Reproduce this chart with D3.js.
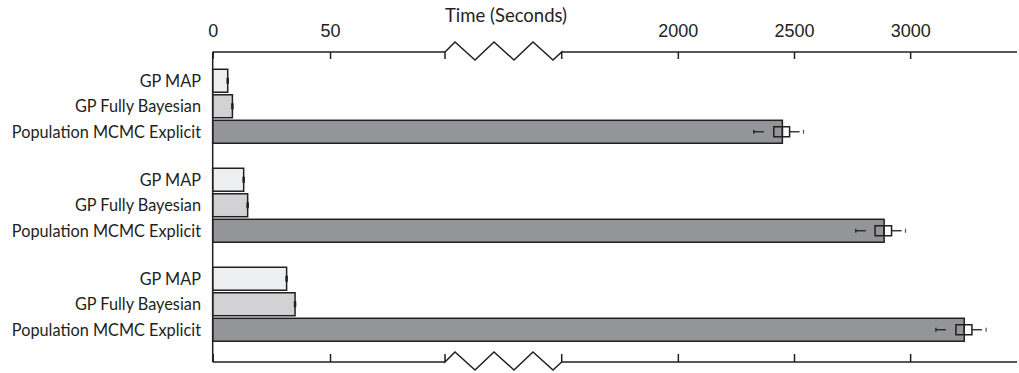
<!DOCTYPE html>
<html>
  <head>
    <meta charset="utf-8">
    <script src="https://d3js.org/d3.v7.min.js"></script>
    <title>Time (Seconds)</title>
    <style type="text/css">
      body { margin: 0; background: #fff; }
      svg { display: block; }
      .tick text { font-family: "Liberation Sans", Arial, sans-serif; font-size: 18px; fill: #231f20; }
      .axis line { stroke: #231f20; stroke-width: 1.5; }
      .label { font-family: Lato, "Open Sans", sans-serif; font-size: 16.3px; fill: #231f20; }
    </style>
  </head>
  <body>
    <div id="chart"></div>
    <script type="text/javascript">
      // three experiment groups (not labelled in the figure)
      var groups = ["set1", "set2", "set3"];
      var series = ["GP MAP", "GP Fully Bayesian", "Population MCMC Explicit"];
      var colors = ["#eeeff0", "#d1d2d4", "#939598"];

      var gpMap = [6.4, 13.2, 31.5];
      var gpFully = [8.4, 14.9, 35.1];
      var popMcmc = [2450, 2888, 3233];

      // box plot stats for Population MCMC runs: min, q1, median, q3, max
      var popLow = [2327, 2766, 3111];
      var popQ1 = [2413, 2849, 3197];
      var popMed = [2450, 2888, 3233];
      var popQ3 = [2481, 2920, 3266];
      var popHigh = [2541, 2980, 3327];

      var leftTicks = [0, 50];
      var rightTicks = [2000, 2500, 3000];

      var width = 1019, height = 373,
          axisTop = 52, axisBottom = 362,
          breakLo = 99, breakHi = 1500;

      var svg = d3.select("#chart").append("svg")
        .attr("width", width)
        .attr("height", height);

      var xl = d3.scaleLinear().domain([0, breakLo]).range([212.7, 445]);
      var xr = d3.scaleLinear().domain([breakHi, 3460]).range([561.7, 1017]);
      function x(v) { return v <= breakLo ? xl(v) : xr(v); }

      var y0 = d3.scaleBand().domain(groups).range([68, 342.5]).paddingInner(0.227).paddingOuter(0);
      var y1 = d3.scaleBand().domain(series).range([0, y0.bandwidth()]).paddingInner(0.1).paddingOuter(0.05);

      var values = [gpMap, gpFully, popMcmc];
      var rows = [];
      groups.forEach(function(g, gi) {
        series.forEach(function(s, si) {
          rows.push({group: g, gi: gi, series: s, si: si, value: values[si][gi]});
        });
      });

      // bars
      svg.append("g").selectAll("rect")
        .data(rows)
        .enter().append("rect")
          .attr("x", x(0))
          .attr("y", function(d) { return y0(d.group) + y1(d.series); })
          .attr("width", function(d) { return x(d.value) - x(0); })
          .attr("height", y1.bandwidth())
          .attr("fill", function(d) { return colors[d.si]; })
          .attr("stroke", "#231f20")
          .attr("stroke-width", 1.5);

      // small end marks on the GP bars
      svg.append("g").selectAll("line")
        .data(rows.filter(function(d) { return d.si < 2; }))
        .enter().append("line")
          .attr("x1", function(d) { return x(d.value); })
          .attr("x2", function(d) { return x(d.value); })
          .attr("y1", function(d) { return y0(d.group) + y1(d.series) + y1.bandwidth() / 2 - 3; })
          .attr("y2", function(d) { return y0(d.group) + y1(d.series) + y1.bandwidth() / 2 + 3; })
          .attr("stroke", "#231f20")
          .attr("stroke-width", 2.5);

      // box plots on the Population MCMC bars
      var box = svg.append("g").selectAll("g")
        .data(groups)
        .enter().append("g")
          .attr("transform", function(g) {
            return "translate(0," + (y0(g) + y1(series[2]) + y1.bandwidth() / 2) + ")";
          });
      var bh = 10;
      box.append("rect")
        .attr("x", function(g, i) { return x(popQ1[i]); })
        .attr("y", -bh / 2)
        .attr("width", function(g, i) { return x(popQ3[i]) - x(popQ1[i]); })
        .attr("height", bh)
        .attr("fill", "none")
        .attr("stroke", "#231f20")
        .attr("stroke-width", 1.5);
      box.append("line")
        .attr("x1", function(g, i) { return x(popMed[i]); })
        .attr("x2", function(g, i) { return x(popMed[i]); })
        .attr("y1", -bh / 2).attr("y2", bh / 2)
        .attr("stroke", "#231f20").attr("stroke-width", 1.5);
      box.append("line")
        .attr("x1", function(g, i) { return x(popLow[i]); })
        .attr("x2", function(g, i) { return x(popQ1[i]); })
        .attr("stroke", "#231f20").attr("stroke-width", 1.3)
        .attr("stroke-dasharray", "10,10");
      box.append("line")
        .attr("x1", function(g, i) { return x(popQ3[i]); })
        .attr("x2", function(g, i) { return x(popHigh[i]); })
        .attr("stroke", "#231f20").attr("stroke-width", 1.3)
        .attr("stroke-dasharray", "10,10");
      box.append("line")
        .attr("x1", function(g, i) { return x(popLow[i]); })
        .attr("x2", function(g, i) { return x(popLow[i]); })
        .attr("y1", -2).attr("y2", 2)
        .attr("stroke", "#231f20").attr("stroke-width", 1.3);
      box.append("line")
        .attr("x1", function(g, i) { return x(popHigh[i]); })
        .attr("x2", function(g, i) { return x(popHigh[i]); })
        .attr("y1", -2).attr("y2", 2)
        .attr("stroke", "#555").attr("stroke-width", 1.2);

      // category labels
      svg.append("g").selectAll("text")
        .data(rows)
        .enter().append("text")
          .attr("class", "label")
          .attr("x", 201)
          .attr("y", function(d) { return y0(d.group) + y1(d.series) + y1.bandwidth() / 2; })
          .attr("dy", "0.36em")
          .attr("text-anchor", "end")
          .text(function(d) { return d.series; });

      // axes: top with labels, bottom without
      function drawAxes(yPos, top) {
        var makeL = top ? d3.axisTop(xl) : d3.axisBottom(xl);
        var makeR = top ? d3.axisTop(xr) : d3.axisBottom(xr);
        var inner = top ? -7 : -8;
        makeL.tickValues(leftTicks).tickSizeInner(inner).tickPadding(15).tickFormat(d3.format("d"));
        makeR.tickValues(rightTicks).tickSizeInner(inner).tickPadding(15).tickFormat(d3.format("d"));
        if (!top) { makeL.tickFormat(""); makeR.tickFormat(""); }
        [makeL, makeR].forEach(function(ax) {
          var g = svg.append("g").attr("class", "axis")
            .attr("transform", "translate(0," + yPos + ")").call(ax);
          g.select(".domain").remove();
          g.selectAll(".tick text").attr("font-size", null).attr("font-family", null);
        });

        // axis line with a zigzag break between the two segments
        var a = xl.range()[1], b = xr.range()[0], s = top ? 7 : -8;
        var zig = [[a, s], [a, 0], [a + 10, -10], [a + 30, 8], [a + 49, -10], [a + 69, 8],
                   [a + 88, -10], [a + 108, 8], [b, 0], [b, s]];
        svg.append("path")
          .attr("d", d3.line()(zig.map(function(p) { return [p[0], yPos + p[1]]; })))
          .attr("fill", "none")
          .attr("stroke", "#231f20")
          .attr("stroke-width", 1.5);
        svg.append("path")
          .attr("d", d3.line()([[xl.range()[0], yPos], [a, yPos]]))
          .attr("stroke", "#231f20").attr("stroke-width", 1.5);
        svg.append("path")
          .attr("d", d3.line()([[b, yPos], [xr.range()[1], yPos]]))
          .attr("stroke", "#231f20").attr("stroke-width", 1.5);
      }
      drawAxes(axisTop, true);
      drawAxes(axisBottom, false);

      // vertical baseline
      svg.append("line")
        .attr("x1", x(0)).attr("x2", x(0))
        .attr("y1", axisTop).attr("y2", axisBottom)
        .attr("stroke", "#231f20").attr("stroke-width", 1.5);

      svg.append("text")
        .attr("x", 506)
        .attr("y", 22)
        .attr("text-anchor", "middle")
        .attr("class", "label")
        .style("font-size", "18.5px")
        .text("Time (Seconds)");
    </script>
  </body>
</html>
